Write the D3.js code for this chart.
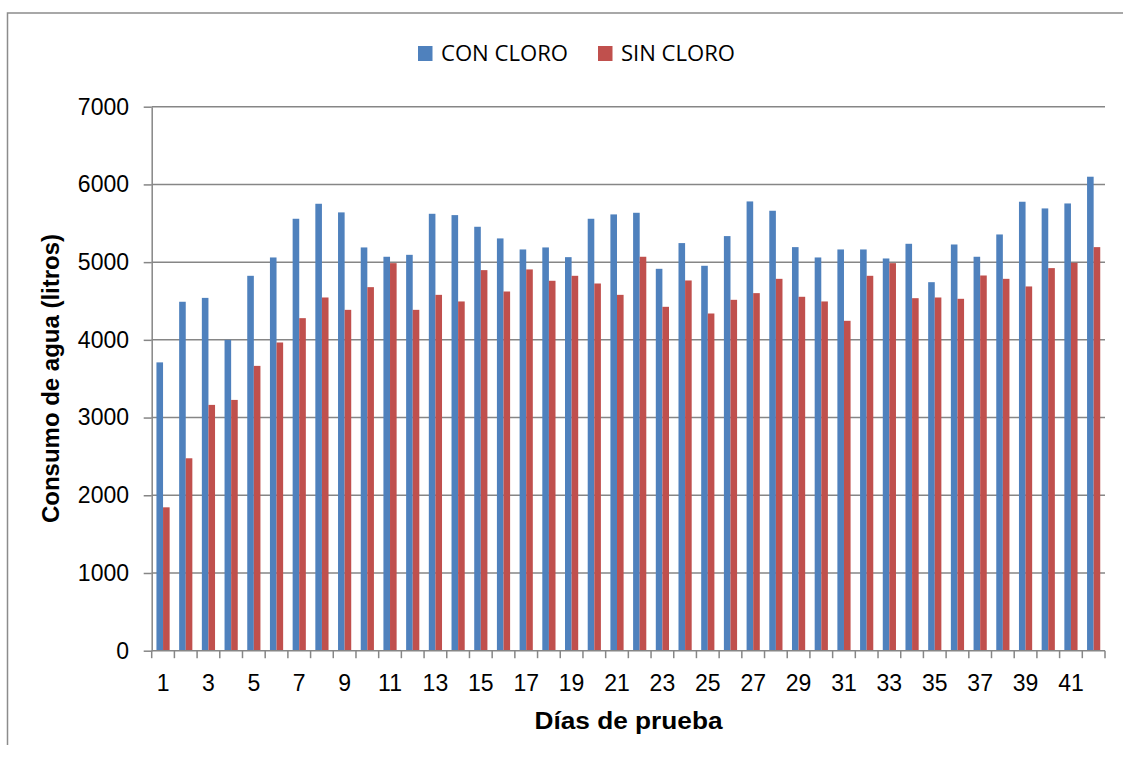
<!DOCTYPE html>
<html lang="es">
<head>
  <meta charset="utf-8">
  <title>Consumo de agua</title>
  <script src="https://d3js.org/d3.v7.min.js"></script>
  <style>
    body { margin: 0; background: #fff; }
    .grafico text { font-family: "Liberation Sans", Arial, sans-serif; fill: #000; }
    .eje path, .eje line { stroke: #868686; }
  </style>
</head>
<body>
  <div id="chart" class="grafico"></div>

  <script>
    "use strict"

    // dias de prueba (categorias)
    var dias = [1, 2, 3, 4, 5, 6, 7, 8, 9, 10, 11, 12, 13, 14, 15, 16, 17, 18, 19, 20, 21,
                22, 23, 24, 25, 26, 27, 28, 29, 30, 31, 32, 33, 34, 35, 36, 37, 38, 39, 40, 41, 42];

    // litros consumidos
    var conCloro = [3710, 4490, 4540, 4000, 4824, 5060, 5558, 5751, 5640, 5189,
                    5069, 5094, 5622, 5605, 5455, 5305, 5163, 5189, 5064, 5558,
                    5614, 5635, 4914, 5245, 4953, 5335, 5781, 5661, 5193, 5060,
                    5163, 5163, 5047, 5236, 4742, 5227, 5069, 5356, 5777, 5691,
                    5755, 6099];
    var sinCloro = [1845, 2476, 3163, 3227, 3665, 3966, 4279, 4545, 4386, 4678,
                    4987, 4386, 4579, 4494, 4897, 4622, 4906, 4760, 4824, 4725,
                    4579, 5069, 4425, 4764, 4339, 4515, 4601, 4785, 4554, 4494,
                    4245, 4824, 4987, 4536, 4545, 4528, 4828, 4785, 4687, 4923,
                    4991, 5193];

    var series = ["CON CLORO", "SIN CLORO"];
    var colores = ["#4F81BD", "#C0504D"];

    var etiquetasX = [1, 3, 5, 7, 9, 11, 13, 15, 17, 19, 21, 23, 25, 27, 29, 31, 33, 35, 37, 39, 41];
    var ticksY = [0, 1000, 2000, 3000, 4000, 5000, 6000, 7000];

    var anchoSVG = 1123,
        altoSVG = 761;

    var izq = 151.7, der = 1105, arriba = 106.7, abajo = 650.7;

    var svg = d3.select('#chart')
      .append('svg')
        .attr('width', anchoSVG)
        .attr('height', altoSVG);

    // marco exterior (solo se ve arriba y a la izquierda)
    svg.append('path')
      .attr('d', 'M7.5,745V13H1123')
      .attr('fill', 'none')
      .attr('stroke', '#8c8c8c')
      .attr('stroke-width', 1.5);

    var x = d3.scaleBand()
      .domain(dias)
      .range([izq, der]);

    var xs = d3.scaleBand()
      .domain(series)
      .range([0, x.bandwidth()])
      .paddingOuter(0.72);

    var y = d3.scaleLinear()
      .domain([0, 7000])
      .range([abajo, arriba]);

    // lineas de cuadricula
    svg.append('g')
      .selectAll('line')
      .data(ticksY.filter(d => d > 0))
      .enter()
      .append('line')
        .attr('x1', izq).attr('x2', der)
        .attr('y1', d => y(d)).attr('y2', d => y(d))
        .attr('stroke', '#868686')
        .attr('stroke-width', 1.5);

    // barras
    var datos = dias.map((d, i) => ({ dia: d, valores: [conCloro[i], sinCloro[i]] }));

    var grupos = svg.append('g')
      .selectAll('g')
      .data(datos)
      .enter()
      .append('g')
        .attr('transform', d => 'translate(' + x(d.dia) + ',0)');

    grupos.selectAll('rect')
      .data(d => d.valores.map((v, j) => ({ serie: series[j], valor: v, color: colores[j] })))
      .enter()
      .append('rect')
        .attr('x', d => xs(d.serie))
        .attr('width', xs.bandwidth())
        .attr('y', d => y(d.valor))
        .attr('height', d => y(0) - y(d.valor))
        .attr('fill', d => d.color);

    // eje Y
    var ejeY = svg.append('g')
      .attr('class', 'eje')
      .attr('transform', 'translate(' + izq + ',0)')
      .call(d3.axisLeft(y).tickValues(ticksY).tickFormat(d3.format('d'))
              .tickSize(8).tickPadding(14.7).tickSizeOuter(0));
    ejeY.selectAll('line, path').attr('stroke-width', 1.5);
    ejeY.selectAll('text').style('font-size', '23px');

    // eje X: etiquetas
    var ejeX = svg.append('g')
      .attr('class', 'eje')
      .attr('transform', 'translate(0,' + abajo + ')')
      .call(d3.axisBottom(x).tickValues(etiquetasX).tickSize(0).tickPadding(24));
    ejeX.select('path').attr('stroke-width', 1.5).attr('d', 'M' + izq + ',0H' + der);
    ejeX.selectAll('text').style('font-size', '23px');

    // eje X: marcas entre categorias
    var bordes = dias.map(d => x(d)).concat([x(dias[dias.length - 1]) + x.step()]);
    svg.append('g')
      .selectAll('line')
      .data(bordes)
      .enter()
      .append('line')
        .attr('x1', d => d).attr('x2', d => d)
        .attr('y1', abajo).attr('y2', abajo + 7.5)
        .attr('stroke', '#868686')
        .attr('stroke-width', 1.5);

    // titulos de ejes
    svg.append('text')
      .attr('x', 628.5).attr('y', 729)
      .attr('text-anchor', 'middle')
      .attr('textLength', 188)
      .attr('lengthAdjust', 'spacingAndGlyphs')
      .style('font-size', '23px')
      .style('font-weight', 'bold')
      .text('Días de prueba');

    svg.append('text')
      .attr('transform', 'translate(59,378.5) rotate(-90)')
      .attr('text-anchor', 'middle')
      .attr('textLength', 289)
      .attr('lengthAdjust', 'spacingAndGlyphs')
      .style('font-size', '23px')
      .style('font-weight', 'bold')
      .text('Consumo de agua (litros)');

    // leyenda
    var posLeyenda = [418, 598];
    var leyenda = svg.append('g')
      .selectAll('g')
      .data(series)
      .enter()
      .append('g')
        .attr('transform', (d, i) => 'translate(' + posLeyenda[i] + ',46)');

    leyenda.append('rect')
      .attr('width', 14.5).attr('height', 15)
      .attr('fill', (d, i) => colores[i]);

    leyenda.append('text')
      .attr('x', 23).attr('y', 15)
      .attr('textLength', (d, i) => i === 0 ? 127 : 114)
      .attr('lengthAdjust', 'spacingAndGlyphs')
      .style('font-family', '"Open Sans", sans-serif')
      .style('font-size', '21px')
      .text(d => d);
  </script>
</body>
</html>
